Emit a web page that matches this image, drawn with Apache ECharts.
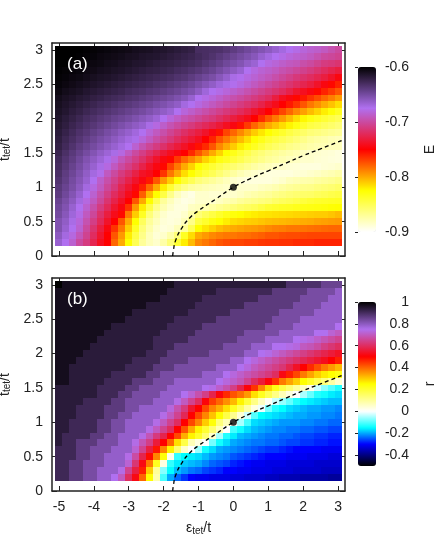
<!DOCTYPE html>
<html>
<head>
<meta charset="utf-8">
<style>html,body{margin:0;padding:0;background:#fff}#c{width:436px;height:546px}</style>
<script src="https://cdn.jsdelivr.net/npm/echarts@6/dist/echarts.min.js"></script>
</head>
<body>
<div id="c"></div>
<script>
const xValues = [-5,-4.8,-4.6,-4.4,-4.2,-4,-3.8,-3.6,-3.4,-3.2,-3,-2.8,-2.6,-2.4,-2.2,-2,-1.8,-1.6,-1.4,-1.2,-1,-0.8,-0.6,-0.4,-0.2,0,0.2,0.4,0.6,0.8,1,1.2,1.4,1.6,1.8,2,2.2,2.4,2.6,2.8,3];
const yValues = [0.2,0.3,0.4,0.5,0.6,0.7,0.8,0.9,1,1.1,1.2,1.3,1.4,1.5,1.6,1.7,1.8,1.9,2,2.1,2.2,2.3,2.4,2.5,2.6,2.7,2.8,2.9,3];
const xTicks = [-5,-4,-3,-2,-1,0,1,2,3];
const yTicks = [0,0.5,1,1.5,2,2.5,3];
const energyTicks = [-0.9,-0.8,-0.7,-0.6];
const ratioTicks = [-0.4,-0.2,0,0.2,0.4,0.6,0.8,1];

// E, as -E x 1000, rows from t_tet = 0.2 upward
const energyRows = [
[665,675,685,700,710,725,740,750,780,800,825,850,870,880,885,875,860,840,820,805,790,785,780,775,772,770,770,768,768,766,765,765,764,764,762,762,762,760,760,760,760],
[660,670,680,692,705,720,735,750,775,795,820,845,865,880,888,885,875,860,835,815,800,795,790,787,785,785,783,782,780,778,775,775,773,772,772,771,770,770,770,770,770],
[655,665,675,685,700,715,730,745,765,785,810,835,860,875,885,890,888,880,870,850,825,818,812,806,802,800,798,796,795,793,790,788,787,785,785,784,783,782,781,780,780],
[655,662,672,682,695,708,722,737,750,775,800,825,852,870,880,888,890,888,880,865,845,838,830,825,820,815,813,811,810,808,806,805,804,803,802,801,800,798,797,796,795],
[650,658,668,678,690,702,717,730,742,752,785,810,835,860,875,885,890,890,885,875,860,852,845,838,832,828,825,822,820,818,817,816,815,814,813,812,811,810,810,808,805],
[648,655,665,675,685,697,710,722,735,745,765,795,820,845,865,877,885,890,890,882,880,877,873,868,864,860,856,853,850,845,840,838,836,835,833,831,830,829,828,826,825],
[645,652,660,670,680,690,702,715,727,738,750,775,800,825,850,870,880,888,892,890,885,885,885,882,878,875,870,867,865,862,860,855,852,850,847,843,840,838,837,836,835],
[640,648,656,665,675,685,697,708,720,730,742,752,778,805,825,845,865,880,888,892,885,885,887,887,886,885,882,878,875,872,870,866,863,860,858,856,855,852,850,847,845],
[638,645,652,660,670,680,690,702,712,725,735,745,760,780,800,820,840,855,865,872,875,878,880,882,884,885,885,885,885,882,880,877,873,870,868,866,865,862,860,858,855],
[635,642,650,657,665,675,687,697,707,717,727,737,745,757,775,795,810,825,840,850,860,865,870,875,880,885,888,890,890,890,890,888,885,880,878,876,875,872,870,868,865],
[632,640,647,654,662,670,677,690,700,710,718,728,738,742,750,765,785,800,815,825,835,843,850,858,865,872,878,882,885,888,890,890,890,890,888,887,885,883,880,878,875],
[630,637,644,651,658,665,672,680,690,700,708,717,727,737,745,752,770,785,800,812,825,833,840,847,853,858,863,868,873,877,880,883,885,887,888,890,890,890,888,887,885],
[628,635,641,648,655,661,667,673,682,692,700,708,717,727,737,745,752,767,780,790,800,812,820,830,835,842,848,855,860,865,870,873,877,880,882,885,885,887,888,889,890],
[625,632,638,644,650,656,662,667,672,680,690,700,708,717,725,733,740,745,750,762,775,787,800,812,825,832,840,847,855,860,865,868,872,875,878,882,885,886,887,888,890],
[622,628,634,640,645,650,655,660,665,670,675,685,695,703,710,717,725,732,738,745,755,762,775,790,800,810,820,828,835,843,850,855,860,865,868,872,875,877,878,880,880],
[620,626,631,636,641,646,651,655,660,665,670,673,682,690,698,705,712,720,727,733,740,750,760,775,785,795,805,815,825,832,840,845,850,855,860,865,870,873,875,878,880],
[618,623,628,633,637,642,646,651,655,660,664,669,675,683,690,697,704,711,718,724,730,737,745,755,770,780,790,800,810,818,825,832,838,845,850,855,860,862,865,868,870],
[616,620,625,629,633,637,641,645,649,653,657,661,665,672,680,687,694,700,706,711,717,722,727,733,740,745,755,767,780,790,800,807,815,822,830,838,845,848,852,856,860],
[614,618,622,626,630,633,637,640,644,647,650,654,658,662,667,675,682,688,694,698,703,708,712,718,724,730,736,742,750,763,775,785,795,805,815,823,830,835,840,845,850],
[612,615,619,622,626,629,632,635,638,641,644,647,650,654,658,662,666,675,682,687,692,697,702,707,712,716,721,727,735,742,750,760,770,780,790,797,805,812,820,827,835],
[610,613,616,619,622,625,628,630,633,636,638,641,644,647,651,654,658,662,670,675,680,685,690,695,700,705,710,715,720,727,735,742,750,757,765,775,785,792,800,807,815],
[608,611,613,616,618,621,623,626,628,630,633,635,638,641,644,647,650,654,658,665,675,678,682,687,692,696,700,705,710,715,720,730,740,745,752,757,765,772,780,787,795],
[605,608,610,612,615,617,619,621,623,625,628,630,632,635,637,640,643,646,650,654,660,668,675,678,682,686,690,695,700,705,710,715,720,727,735,740,745,752,760,767,775],
[603,605,607,609,611,613,615,617,619,621,623,625,627,629,632,634,637,640,643,647,652,657,662,668,672,676,680,685,690,695,700,705,710,715,720,725,730,737,745,752,760],
[602,603,605,606,608,610,612,613,615,617,619,621,623,625,627,629,631,634,636,640,644,648,652,658,664,672,676,680,684,688,692,697,702,707,712,716,720,725,730,737,745],
[601,602,603,604,606,607,609,610,612,613,615,617,619,621,622,624,626,629,631,634,637,641,645,650,655,660,665,675,680,684,687,690,695,698,702,706,710,715,720,725,730],
[600,600,601,602,604,605,606,608,609,611,612,614,615,617,619,621,622,624,626,628,631,635,639,643,648,652,656,662,666,675,680,683,687,690,692,697,700,705,710,712,715],
[600,600,600,601,602,603,605,606,607,608,610,611,613,614,615,617,619,621,623,625,628,631,634,638,642,646,650,654,658,665,670,675,678,682,685,687,690,695,700,702,705],
[600,600,600,600,601,602,603,604,605,606,607,609,610,611,613,614,616,618,620,622,630,631,632,633,636,640,644,648,652,656,660,665,670,675,678,682,685,687,690,695,700]
];

// r x 100, rows from t_tet = 0.2 upward
const ratioRows = [
[91,91,87,87,83,83,79,79,75,70,60,52,40,25,8,-11,-20,-24,-27,-30,-31,-31,-32,-32,-32,-33,-33,-34,-34,-34,-35,-35,-36,-36,-36,-37,-37,-37,-37,-38,-38],
[91,91,87,87,83,83,79,79,79,74,65,57,47,30,10,-7,-15,-19,-21,-23,-24,-26,-27,-28,-30,-30,-31,-31,-32,-32,-32,-33,-33,-33,-34,-34,-34,-34,-35,-35,-35],
[91,91,87,87,83,83,83,79,79,79,72,62,52,38,22,3,-12,-16,-18,-19,-20,-22,-24,-25,-26,-28,-29,-30,-31,-31,-32,-32,-32,-33,-33,-33,-33,-34,-34,-34,-34],
[91,91,91,87,87,83,83,79,79,79,74,67,58,49,37,24,2,-12,-15,-16,-17,-19,-21,-22,-23,-25,-26,-27,-28,-29,-30,-30,-30,-31,-31,-31,-32,-32,-32,-33,-33],
[91,91,91,87,87,83,83,83,79,79,79,72,65,57,48,37,26,14,5,0,-6,-14,-17,-20,-21,-22,-23,-24,-25,-26,-27,-27,-28,-29,-30,-30,-30,-30,-31,-31,-31],
[94,91,91,87,87,87,83,83,83,79,79,74,69,64,56,50,40,28,18,7,3,0,-8,-14,-17,-20,-21,-22,-23,-23,-24,-24,-25,-26,-26,-27,-27,-28,-28,-29,-29],
[94,91,91,91,91,87,87,83,83,79,79,79,74,69,63,58,50,43,33,26,21,14,5,-5,-13,-16,-19,-20,-21,-22,-23,-23,-24,-24,-25,-26,-26,-27,-27,-28,-28],
[94,94,91,91,91,91,87,87,83,83,79,79,79,74,70,65,60,50,42,33,26,20,14,7,0,-11,-14,-17,-19,-20,-21,-22,-22,-23,-23,-24,-24,-25,-25,-26,-26],
[94,94,91,91,91,91,87,87,83,83,79,79,79,79,74,70,65,60,50,43,37,30,24,13,7,1,-5,-11,-17,-18,-19,-20,-21,-21,-21,-22,-22,-23,-23,-24,-24],
[94,94,94,91,91,91,91,87,87,83,83,79,79,79,79,74,70,65,59,50,43,37,31,25,18,11,4,-3,-10,-15,-16,-17,-18,-19,-20,-20,-21,-21,-22,-22,-23],
[94,94,94,91,91,91,91,87,87,87,83,83,79,79,79,79,73,68,63,55,50,43,37,33,28,22,16,9,3,-1,-8,-13,-15,-17,-18,-19,-20,-20,-21,-21,-22],
[94,94,94,94,91,91,91,91,87,87,83,83,83,83,79,79,79,74,70,65,60,51,44,40,36,32,26,19,12,6,1,-3,-6,-9,-13,-15,-16,-17,-18,-19,-19],
[94,94,94,94,94,94,91,91,91,87,87,83,83,83,83,79,79,79,75,72,68,64,58,51,46,42,39,35,28,22,17,12,7,3,0,-5,-9,-13,-14,-16,-17],
[94,94,94,94,94,94,91,91,91,91,87,87,83,83,83,83,79,79,79,79,79,75,74,71,68,64,58,51,45,37,29,23,18,14,10,6,2,-3,-7,-10,-13],
[97,97,94,94,94,94,94,91,91,91,91,87,87,87,83,83,83,79,79,79,79,79,79,75,73,71,69,65,60,56,51,45,38,34,30,25,21,17,13,9,5],
[97,97,94,94,94,94,94,94,91,91,91,91,91,87,87,83,83,83,83,83,83,79,79,79,75,73,71,69,67,65,63,60,52,47,43,38,34,30,27,25,23],
[97,97,94,94,94,94,94,94,94,94,91,91,91,91,87,87,87,83,83,83,83,83,83,79,79,79,75,73,70,68,66,64,62,58,54,50,46,42,38,35,32],
[97,97,97,94,94,94,94,94,94,94,94,91,91,91,91,87,87,87,87,83,83,83,83,83,83,79,79,75,73,71,69,67,65,63,61,59,57,55,53,50,47],
[97,97,97,97,94,94,94,94,94,94,94,94,94,91,91,91,87,87,87,87,87,87,83,83,83,83,83,79,79,75,74,72,70,68,66,64,62,60,58,56,54],
[97,97,97,97,97,94,94,94,94,94,94,94,94,94,91,91,91,87,87,87,87,87,87,87,83,83,83,83,79,79,79,75,75,74,73,70,69,67,64,62,60],
[97,97,97,97,97,97,94,94,94,94,94,94,94,94,91,91,91,91,91,87,87,87,87,87,87,87,83,83,83,83,79,79,79,79,75,74,73,71,69,67,65],
[97,97,97,97,97,97,97,94,94,94,94,94,94,94,94,91,91,91,91,91,87,87,87,87,87,87,87,83,83,83,83,83,79,79,79,79,79,75,75,72,70],
[97,97,97,97,97,97,97,97,94,94,94,94,94,94,94,94,91,91,91,91,91,87,87,87,87,87,87,87,87,87,83,83,83,83,79,79,79,79,79,79,75],
[97,97,97,97,97,97,97,97,97,97,94,94,94,94,94,94,94,91,91,91,91,91,91,87,87,87,87,87,87,87,87,83,83,83,83,79,79,79,79,79,79],
[97,97,97,97,97,97,97,97,97,97,97,94,94,94,94,94,94,94,94,91,91,91,91,91,91,87,87,87,87,87,87,87,83,83,83,83,83,79,79,79,79],
[97,97,97,97,97,97,97,97,97,97,97,97,97,94,94,94,94,94,94,94,91,91,91,91,91,91,91,87,87,87,87,87,87,87,83,83,83,83,79,79,79],
[97,97,97,97,97,97,97,97,97,97,97,97,97,97,97,94,94,94,94,94,94,91,91,91,91,91,91,91,91,87,87,87,87,87,87,83,83,83,83,79,79],
[97,97,97,97,97,97,97,97,97,97,97,97,97,97,97,97,94,94,94,94,94,94,94,91,91,91,91,91,91,91,91,87,87,87,87,87,83,83,83,83,79],
[100,97,97,97,97,97,97,97,97,97,97,97,97,97,97,97,97,94,94,94,94,94,94,94,94,94,94,94,94,94,94,94,94,89,89,89,89,89,85,85,85]
];

const curveX = [-1.74,-1.72,-1.66,-1.5,-1.26,-1,-0.5,0,0.5,1,1.5,2,2.5,3.15];
const curveY = [0,0.08,0.22,0.39,0.55,0.66,0.83,1,1.13,1.24,1.35,1.46,1.56,1.69];
const pointX = [0];
const pointY = [1];

const energyColors = ['#ffffff','#ffffaa','#ffff55','#ffff00','#ffaa00','#ff5500','#ff0000','#e52550','#ca4aa0','#b070f0','#754ba0','#3b2550','#000000'];
const ratioColors = ['#000000','#000040','#000080','#0000c0','#0000ff','#0055ff','#00aaff','#00ffff','#55ffff','#aaffff','#ffffff','#ffffcc','#ffff99','#ffff66','#ffff33','#ffff00','#ffcc00','#ff9900','#ff6600','#ff3300','#ff0000','#ef1630','#df2d60','#d04390','#c05ac0','#b070f0','#8d5ac0','#6a4390','#462d60','#231630','#000000'];

const FONT = '"Liberation Sans", Arial, sans-serif';
const INK = '#222222';
const cellHalfX = 0.1, cellHalfY = 0.05;

function cells(rows, scale) {
  const out = [];
  rows.forEach((row, j) => row.forEach((v, i) => out.push([xValues[i], yValues[j], v * scale])));
  return out;
}
function zip(xs, ys) { return xs.map((x, i) => [x, ys[i]]); }
function renderCell(params, api) {
  const x = api.value(0), y = api.value(1);
  const a = api.coord([x - cellHalfX, y + cellHalfY]);
  const b = api.coord([x + cellHalfX, y - cellHalfY]);
  const x0 = Math.round(a[0]), y0 = Math.round(a[1]);
  return { type: 'rect', shape: { x: x0, y: y0, width: Math.round(b[0]) - x0, height: Math.round(b[1]) - y0 },
           style: { fill: api.visual('color') } };
}
const lineStyle = { color: INK, width: 1.5 };
const tetName = '{t|t}{s|tet}{t|/t}';
const nameRich = {
  t: { fontFamily: FONT, fontSize: 14, color: INK },
  s: { fontFamily: FONT, fontSize: 10, color: INK, padding: [5, 0, 0, 0] }
};

function xAxes(g, labelled) {
  const base = { type: 'value', gridIndex: g, min: -5.2, max: 3.2, splitLine: { show: false },
    axisLine: { onZero: false, lineStyle }, axisTick: { inside: true, length: 5, lineStyle: { color: INK, width: 1 }, customValues: xTicks } };
  return [
    Object.assign({}, base, { position: 'bottom',
      axisLabel: { show: labelled, customValues: xTicks, margin: 9, fontFamily: FONT, fontSize: 14, color: INK },
      name: labelled ? '{e|ε}{s|tet}{t|/t}' : '', nameLocation: 'middle', nameGap: 30,
      nameTextStyle: { rich: Object.assign({ e: { fontFamily: FONT, fontSize: 14, color: INK } }, nameRich) } }),
    Object.assign({}, base, { position: 'top', axisLabel: { show: false } })
  ];
}
function yAxes(g) {
  const base = { type: 'value', gridIndex: g, min: 0, max: 3.1, splitLine: { show: false },
    axisLine: { onZero: false, lineStyle }, axisTick: { inside: true, length: 5, lineStyle: { color: INK, width: 1 }, customValues: yTicks } };
  return [
    Object.assign({}, base, { position: 'left',
      axisLabel: { customValues: yTicks, margin: 9, fontFamily: FONT, fontSize: 14, color: INK },
      name: tetName, nameLocation: 'middle', nameGap: 35, nameRotate: 90, nameTextStyle: { rich: nameRich } }),
    Object.assign({}, base, { position: 'right', axisLabel: { show: false } })
  ];
}
function barAxis(g, ticks, lo, hi, name) {
  return { type: 'value', gridIndex: g, position: 'right', min: lo, max: hi, splitLine: { show: false },
    axisLine: { show: false },
    axisTick: { inside: true, length: 3, lineStyle: { color: INK, width: 1 }, customValues: ticks },
    axisLabel: { customValues: ticks, align: 'right', margin: 33, fontFamily: FONT, fontSize: 14, color: INK },
    name, nameLocation: 'middle', nameGap: 47, nameRotate: 90, nameTextStyle: { fontFamily: FONT, fontSize: 14, color: INK } };
}
function hidden(g) { return { type: 'value', gridIndex: g, show: false, min: 0, max: 1 }; }

const option = {
  backgroundColor: '#ffffff',
  animation: false,
  grid: [
    { left: 52, top: 43, width: 293, height: 213, outerBoundsMode: 'none' },
    { left: 52, top: 278, width: 293, height: 213, outerBoundsMode: 'none' },
    { left: 358, top: 67, width: 18, height: 165, outerBoundsMode: 'none' },
    { left: 358, top: 302, width: 18, height: 164, outerBoundsMode: 'none' }
  ],
  xAxis: [...xAxes(0, false), ...xAxes(1, true), hidden(2), hidden(3)],
  yAxis: [...yAxes(0), ...yAxes(1), barAxis(2, energyTicks, -0.9, -0.6, 'E'), barAxis(3, ratioTicks, -0.5, 1, 'r')],
  visualMap: [
    { type: 'continuous', seriesIndex: 0, dimension: 2, min: -0.9, max: -0.6, calculable: false, hoverLink: false,
      left: 358, top: 67, itemWidth: 18, itemHeight: 165, padding: 0, text: null, showLabel: false, inRange: { color: energyColors } },
    { type: 'continuous', seriesIndex: 1, dimension: 2, min: -0.5, max: 1, calculable: false, hoverLink: false,
      left: 358, top: 302, itemWidth: 18, itemHeight: 164, padding: 0, text: null, showLabel: false, inRange: { color: ratioColors } }
  ],
  series: [
    { type: 'custom', xAxisIndex: 0, yAxisIndex: 0, renderItem: renderCell, encode: { x: 0, y: 1 }, data: cells(energyRows, -0.001), silent: true },
    { type: 'custom', xAxisIndex: 2, yAxisIndex: 2, renderItem: renderCell, encode: { x: 0, y: 1 }, data: cells(ratioRows, 0.01), silent: true },
    { type: 'line', xAxisIndex: 0, yAxisIndex: 0, data: zip(curveX, curveY), smooth: 0.5, showSymbol: false, silent: true, z: 5, lineStyle: { color: '#000', width: 1.3, type: [4, 3] } },
    { type: 'line', xAxisIndex: 2, yAxisIndex: 2, data: zip(curveX, curveY), smooth: 0.5, showSymbol: false, silent: true, z: 5, lineStyle: { color: '#000', width: 1.3, type: [4, 3] } },
    { type: 'scatter', xAxisIndex: 0, yAxisIndex: 0, data: zip(pointX, pointY), symbolSize: 7, itemStyle: { color: '#000' }, silent: true, z: 6 },
    { type: 'scatter', xAxisIndex: 2, yAxisIndex: 2, data: zip(pointX, pointY), symbolSize: 7, itemStyle: { color: '#000' }, silent: true, z: 6 }
  ],
  graphic: [
    { type: 'text', left: 67, top: 56, z: 20, style: { text: '(a)', fill: '#fff', font: '17px ' + FONT } },
    { type: 'text', left: 67, top: 291, z: 20, style: { text: '(b)', fill: '#fff', font: '17px ' + FONT } }
  ]
};
echarts.init(document.getElementById('c'), null, { renderer: 'canvas' }).setOption(option);
</script>
</body>
</html>
